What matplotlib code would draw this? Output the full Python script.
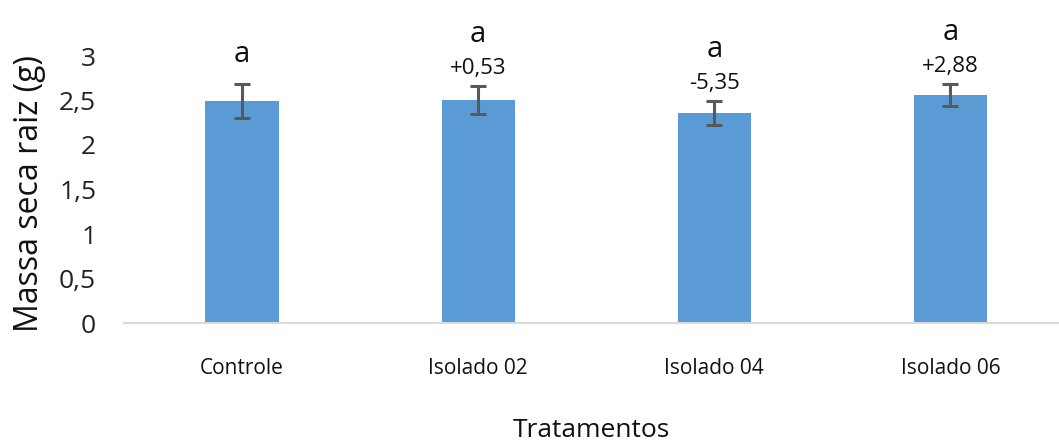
import matplotlib
matplotlib.use("Agg")
import matplotlib.pyplot as plt
from matplotlib.ticker import FixedLocator, FuncFormatter

plt.rcParams['font.family'] = ['Open Sans', 'DejaVu Sans']

categories = ["Controle", "Isolado 02", "Isolado 04", "Isolado 06"]
means = [2.49, 2.503, 2.357, 2.562]
errors = [0.19, 0.155, 0.135, 0.12]
letters = ["a", "a", "a", "a"]
changes = ["", "+0,53", "-5,35", "+2,88"]
yticks = [0, 0.5, 1, 1.5, 2, 2.5, 3]

fig = plt.figure(figsize=(10.59, 4.44), dpi=100)
ax = fig.add_axes([124 / 1059, 121 / 444, 1 - 124 / 1059, (323 - 11.5) / 444])

x = list(range(len(categories)))
ax.bar(x, means, width=0.31, color="#5B9BD5", zorder=2)
ax.errorbar(x, means, yerr=errors, fmt="none", ecolor="#595959",
            elinewidth=2.2, capsize=6, capthick=2.2, zorder=3)

for xi, m, e, let, ch in zip(x, means, errors, letters, changes):
    top = m + e
    if ch:
        ax.annotate(ch, (xi, top), xytext=(0, 5), textcoords="offset points",
                    ha="center", va="bottom", fontsize=16, color="#111111")
        ax.annotate(let, (xi, top), xytext=(0, 27), textcoords="offset points",
                    ha="center", va="bottom", fontsize=21, color="#111111")
    else:
        ax.annotate(let, (xi, top), xytext=(0, 11), textcoords="offset points",
                    ha="center", va="bottom", fontsize=21, color="#111111")

ax.set_xlim(-0.5, 3.46)
ax.set_ylim(0, 3.5)
ax.yaxis.set_major_locator(FixedLocator(yticks))
ax.yaxis.set_major_formatter(FuncFormatter(lambda v, p: f"{v:g}".replace(".", ",")))
ax.set_xticks(x)
ax.set_xticklabels(categories, fontsize=15)
ax.tick_params(axis="x", length=0, pad=25, colors="#111111")
ax.tick_params(axis="y", length=0, pad=20, labelsize=19, colors="#222222")

for s in ["top", "right", "left"]:
    ax.spines[s].set_visible(False)
ax.spines["bottom"].set_color("#D9D9D9")
ax.spines["bottom"].set_linewidth(1.5)

ax.set_ylabel("Massa seca raiz (g)", fontsize=23, color="#111111", va="center")
ax.yaxis.set_label_coords(-(124 - 30) / 935, (323 - 194) / 311.5)
ax.set_xlabel("Tratamentos", fontsize=19, color="#111111", va="center")
ax.xaxis.set_label_coords(0.5, -(430 - 323) / 311.5)

fig.savefig("out.png", dpi=100)
